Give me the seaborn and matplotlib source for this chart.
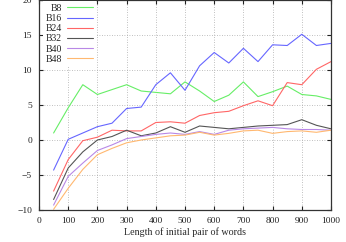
import numpy as np
import pandas as pd
import matplotlib
matplotlib.use('Agg')
import matplotlib.pyplot as plt
import seaborn as sns

# length of the initial pair of words
lengths = [50, 100, 150, 200, 250, 300, 350, 400, 450, 500,
           550, 600, 650, 700, 750, 800, 850, 900, 950, 1000]

b8 = [1.0, 4.6, 7.9, 6.5, 7.2, 7.9, 7.0, 6.8, 6.6, 8.3,
      7.0, 5.5, 6.4, 8.3, 6.2, 6.9, 7.7, 6.5, 6.3, 5.8]
b16 = [-4.3, 0.1, 1.0, 1.9, 2.4, 4.5, 4.7, 7.9, 9.6, 7.1,
       10.6, 12.5, 11.0, 13.1, 11.2, 13.6, 13.5, 15.1, 13.5, 13.8]
b24 = [-7.3, -2.8, -0.1, 0.4, 1.4, 1.3, 1.3, 2.5, 2.6, 2.4,
       3.5, 3.9, 4.1, 4.9, 5.6, 4.9, 8.2, 7.9, 10.1, 11.2]
b32 = [-8.5, -4.0, -1.7, 0.0, 0.5, 1.4, 0.6, 1.0, 1.9, 1.1,
       2.0, 1.8, 1.6, 1.8, 2.0, 2.1, 2.2, 2.9, 2.1, 1.6]
b40 = [-9.3, -5.2, -3.3, -1.5, -0.7, 0.2, 0.5, 0.8, 1.0, 0.8,
       1.2, 0.8, 1.4, 1.6, 1.7, 1.8, 1.6, 1.5, 1.5, 1.4]
b48 = [-9.9, -6.9, -4.2, -2.1, -1.2, -0.4, 0.0, 0.3, 0.6, 0.7,
       1.1, 0.7, 0.95, 1.3, 1.4, 0.95, 1.2, 1.3, 1.1, 1.4]

series_names = ['B8', 'B16', 'B24', 'B32', 'B40', 'B48']
series_values = [b8, b16, b24, b32, b40, b48]
colors = ['#66ee66', '#6666ff', '#ff6666', '#555555', '#b888e6', '#ffb870']

xticks = [0, 100, 200, 300, 400, 500, 600, 700, 800, 900, 1000]
yticks = [-10, -5, 0, 5, 10, 15, 20]

# long-form table for seaborn
df = pd.DataFrame({
    'length': lengths * len(series_names),
    'value': np.concatenate(series_values),
    'series': np.repeat(series_names, len(lengths)),
})

sns.set_style('ticks')
plt.rcParams['font.family'] = ['Liberation Serif', 'DejaVu Serif']

fig = plt.figure(figsize=(3.46, 2.42), dpi=100)
ax = fig.add_axes([39 / 346, 32 / 242, 292 / 346, 210 / 242])

sns.lineplot(data=df, x='length', y='value', hue='series', hue_order=series_names,
             palette=colors, linewidth=0.8, ax=ax, legend=False)

ax.set_xlim(0, 1000)
ax.set_ylim(-10, 20)
ax.set_xticks(xticks)
ax.set_yticks(yticks)
ax.tick_params(direction='in', length=3, width=0.8, labelsize=6.8,
               top=True, right=True, pad=5, colors='#222222')
ax.grid(True, linestyle=(0, (1, 2)), color='#aaaaaa', linewidth=0.6)
for s in ax.spines.values():
    s.set_color('#333333')
    s.set_linewidth(0.9)

ax.set_xlabel('Length of initial pair of words', fontsize=7.2, labelpad=2)
ax.set_ylabel('')

handles = [plt.Line2D([], [], color=c, linewidth=0.8) for c in colors]
leg = ax.legend(handles, series_names, loc='upper left', bbox_to_anchor=(0.01, 1.0),
                markerfirst=False, fontsize=7, handlelength=2.7, handletextpad=0.5,
                labelspacing=0.12, borderaxespad=0.1, borderpad=0.3,
                frameon=True, fancybox=False)
leg.get_frame().set_edgecolor('none')
leg.get_frame().set_facecolor('white')
leg.get_frame().set_alpha(1)

fig.savefig('out.png', dpi=100)
